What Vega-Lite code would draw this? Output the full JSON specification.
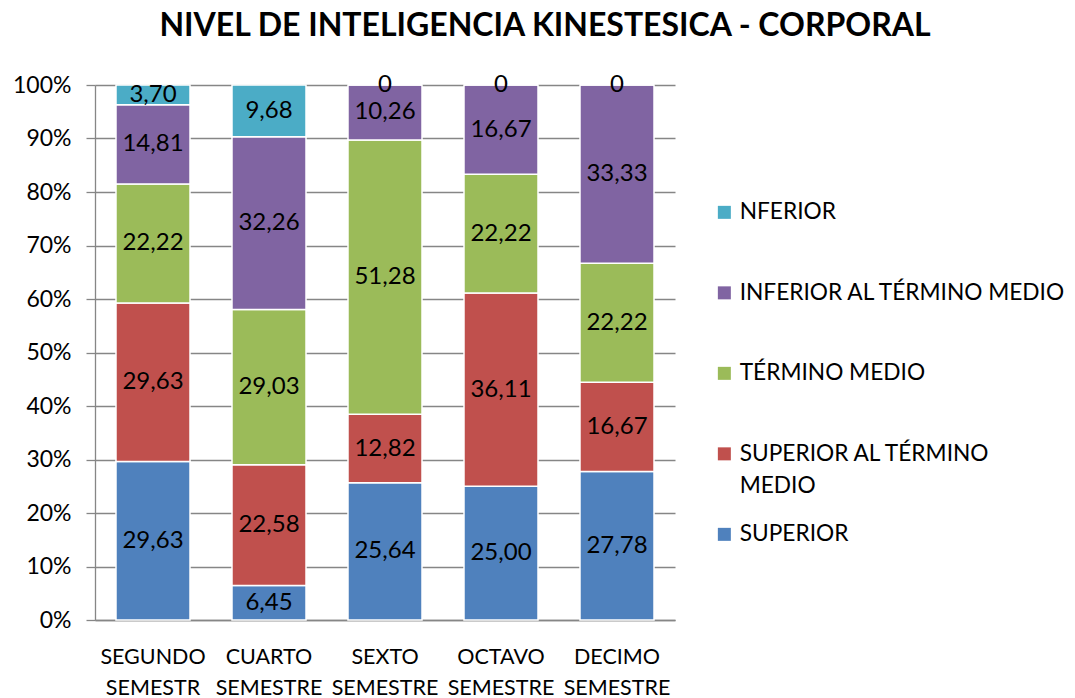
{
  "$schema": "https://vega.github.io/schema/vega-lite/v6.json",
  "width": 580,
  "height": 535,
  "autosize": {"type": "none"},
  "padding": {"left": 95, "top": 85, "right": 400, "bottom": 78},
  "title": {
    "text": "NIVEL DE INTELIGENCIA KINESTESICA - CORPORAL",
    "font": "Lato",
    "fontSize": 32,
    "fontWeight": "bold",
    "color": "#000000",
    "anchor": "middle",
    "frame": "group",
    "dx": 160,
    "offset": 30
  },
  "data": {
    "values": [
      {"semestre": "SEGUNDO SEMESTR", "nivel": "SUPERIOR", "orden": 1, "valor": 29.63},
      {"semestre": "SEGUNDO SEMESTR", "nivel": "SUPERIOR AL TÉRMINO MEDIO", "orden": 2, "valor": 29.63},
      {"semestre": "SEGUNDO SEMESTR", "nivel": "TÉRMINO MEDIO", "orden": 3, "valor": 22.22},
      {"semestre": "SEGUNDO SEMESTR", "nivel": "INFERIOR AL TÉRMINO MEDIO", "orden": 4, "valor": 14.81},
      {"semestre": "SEGUNDO SEMESTR", "nivel": "NFERIOR", "orden": 5, "valor": 3.70},
      {"semestre": "CUARTO SEMESTRE", "nivel": "SUPERIOR", "orden": 1, "valor": 6.45},
      {"semestre": "CUARTO SEMESTRE", "nivel": "SUPERIOR AL TÉRMINO MEDIO", "orden": 2, "valor": 22.58},
      {"semestre": "CUARTO SEMESTRE", "nivel": "TÉRMINO MEDIO", "orden": 3, "valor": 29.03},
      {"semestre": "CUARTO SEMESTRE", "nivel": "INFERIOR AL TÉRMINO MEDIO", "orden": 4, "valor": 32.26},
      {"semestre": "CUARTO SEMESTRE", "nivel": "NFERIOR", "orden": 5, "valor": 9.68},
      {"semestre": "SEXTO SEMESTRE", "nivel": "SUPERIOR", "orden": 1, "valor": 25.64},
      {"semestre": "SEXTO SEMESTRE", "nivel": "SUPERIOR AL TÉRMINO MEDIO", "orden": 2, "valor": 12.82},
      {"semestre": "SEXTO SEMESTRE", "nivel": "TÉRMINO MEDIO", "orden": 3, "valor": 51.28},
      {"semestre": "SEXTO SEMESTRE", "nivel": "INFERIOR AL TÉRMINO MEDIO", "orden": 4, "valor": 10.26},
      {"semestre": "SEXTO SEMESTRE", "nivel": "NFERIOR", "orden": 5, "valor": 0},
      {"semestre": "OCTAVO SEMESTRE", "nivel": "SUPERIOR", "orden": 1, "valor": 25.00},
      {"semestre": "OCTAVO SEMESTRE", "nivel": "SUPERIOR AL TÉRMINO MEDIO", "orden": 2, "valor": 36.11},
      {"semestre": "OCTAVO SEMESTRE", "nivel": "TÉRMINO MEDIO", "orden": 3, "valor": 22.22},
      {"semestre": "OCTAVO SEMESTRE", "nivel": "INFERIOR AL TÉRMINO MEDIO", "orden": 4, "valor": 16.67},
      {"semestre": "OCTAVO SEMESTRE", "nivel": "NFERIOR", "orden": 5, "valor": 0},
      {"semestre": "DECIMO SEMESTRE", "nivel": "SUPERIOR", "orden": 1, "valor": 27.78},
      {"semestre": "DECIMO SEMESTRE", "nivel": "SUPERIOR AL TÉRMINO MEDIO", "orden": 2, "valor": 16.67},
      {"semestre": "DECIMO SEMESTRE", "nivel": "TÉRMINO MEDIO", "orden": 3, "valor": 22.22},
      {"semestre": "DECIMO SEMESTRE", "nivel": "INFERIOR AL TÉRMINO MEDIO", "orden": 4, "valor": 33.33},
      {"semestre": "DECIMO SEMESTRE", "nivel": "NFERIOR", "orden": 5, "valor": 0}
    ]
  },
  "transform": [
    {"stack": "valor", "groupby": ["semestre"], "sort": [{"field": "orden", "order": "ascending"}], "as": ["y0", "y1"], "offset": "normalize"},
    {"calculate": "(datum.y0 + datum.y1) / 2", "as": "ymid"},
    {"calculate": "datum.valor == 0 ? '0' : replace(format(datum.valor, '.2f'), '.', ',')", "as": "etiqueta"}
  ],
  "encoding": {
    "x": {
      "field": "semestre",
      "type": "nominal",
      "sort": null,
      "scale": {"paddingInner": 0.362, "paddingOuter": 0.181},
      "axis": {
        "title": null,
        "labelAngle": 0,
        "labelFont": "Lato",
        "labelFontSize": 21.5,
        "labelColor": "#000000",
        "labelPadding": 37,
        "labelLineHeight": 31,
        "labelExpr": "split(datum.label, ' ')",
        "labelBaseline": "middle",
        "ticks": false,
        "domain": true,
        "domainColor": "#868686",
        "domainWidth": 1.3,
        "labelLimit": 200
      }
    }
  },
  "layer": [
    {
      "mark": {"type": "bar", "stroke": "#ffffff", "strokeWidth": 1.5},
      "encoding": {
        "y": {
          "field": "y0",
          "type": "quantitative",
          "scale": {"domain": [0, 1], "nice": false},
          "axis": {
            "title": null,
            "format": ".0%",
            "values": [0, 0.1, 0.2, 0.3, 0.4, 0.5, 0.6, 0.7, 0.8, 0.9, 1],
            "labelFont": "Lato",
            "labelFontSize": 23,
            "labelColor": "#000000",
            "labelPadding": 15,
            "tickSize": 9,
            "tickColor": "#868686",
            "tickWidth": 1.3,
            "domainColor": "#868686",
            "domainWidth": 1.3,
            "grid": true,
            "gridColor": "#868686",
            "gridWidth": 1.3
          }
        },
        "y2": {"field": "y1"},
        "color": {
          "field": "nivel",
          "type": "nominal",
          "scale": {
            "domain": ["NFERIOR", "INFERIOR AL TÉRMINO MEDIO", "TÉRMINO MEDIO", "SUPERIOR AL TÉRMINO MEDIO", "SUPERIOR"],
            "range": ["#4BACC6", "#8064A2", "#9BBB59", "#C0504D", "#4F81BD"]
          },
          "legend": {
            "title": null,
            "orient": "none",
            "legendX": 618,
            "legendY": 116,
            "symbolType": "square",
            "symbolSize": 169,
            "symbolStrokeWidth": 0,
            "labelFont": "Lato",
            "labelFontSize": 22.7,
            "labelColor": "#000000",
            "labelOffset": 4,
            "labelLimit": 400,
            "rowPadding": 24.5,
            "labelExpr": "datum.label == 'SUPERIOR AL TÉRMINO MEDIO' ? ['SUPERIOR AL TÉRMINO', 'MEDIO'] : [datum.label, '']"
          }
        }
      }
    },
    {
      "mark": {"type": "text", "font": "Lato", "fontSize": 24, "color": "#000000", "baseline": "middle"},
      "encoding": {
        "y": {"field": "ymid", "type": "quantitative"},
        "text": {"field": "etiqueta"}
      }
    }
  ],
  "config": {
    "view": {"stroke": null},
    "axis": {"gridDash": []},
    "style": {"guide-label": {"lineHeight": 32}}
  }
}
